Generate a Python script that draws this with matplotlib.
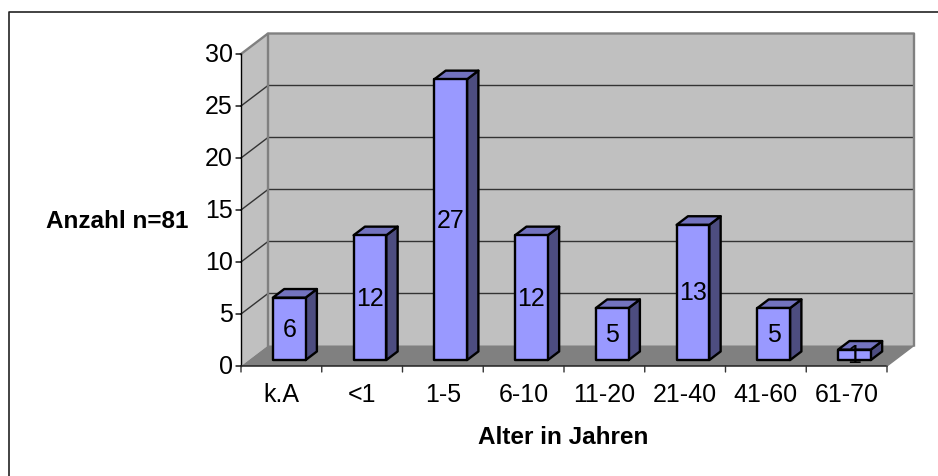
import matplotlib
matplotlib.use("Agg")
import matplotlib.pyplot as plt
from matplotlib.patches import Polygon

categories = ['k.A', '<1', '1-5', '6-10', '11-20', '21-40', '41-60', '61-70']
counts = [6, 12, 27, 12, 5, 13, 5, 1]
y_ticks = [0, 5, 10, 15, 20, 25, 30]

plt.rcParams['font.family'] = ['Liberation Sans', 'DejaVu Sans']

W, H = 938, 477
fig = plt.figure(figsize=(W / 100, H / 100), dpi=100)

# front plane of the chart box, in pixels
left, right, bottom, top = 241, 887, 367, 55
ax = fig.add_axes([left / W, 1 - bottom / H, (right - left) / W, (bottom - top) / H])
ax.set_xlim(0, len(categories))
ax.set_ylim(0, 30)
ax.axis('off')

# depth of the box, in data units
depth_x = 27 / ((right - left) / len(categories))
depth_y = 20.5 / ((bottom - top) / 30)
n = len(categories)
ymax = y_ticks[-1]


def poly(pts, face, edge='none', lw=0, z=1):
    ax.add_patch(Polygon(pts, closed=True, facecolor=face, edgecolor=edge,
                         linewidth=lw, zorder=z, clip_on=False, joinstyle='round'))


# walls and floor
poly([(depth_x, depth_y), (n + depth_x, depth_y), (n + depth_x, ymax + depth_y), (depth_x, ymax + depth_y)], '#c0c0c0', z=1)
poly([(0, 0), (depth_x, depth_y), (depth_x, ymax + depth_y), (0, ymax)], '#c0c0c0', z=1)
poly([(0, 0), (n, 0), (n + depth_x, depth_y), (depth_x, depth_y)], '#808080', z=1)

# gridlines across both walls
for v in y_ticks[1:-1]:
    ax.plot([0, depth_x, n + depth_x], [v, v + depth_y, v + depth_y], color='#333333',
            lw=1.0, zorder=2, clip_on=False)

# wall outline
ax.plot([0, depth_x, n + depth_x, n + depth_x], [ymax, ymax + depth_y, ymax + depth_y, depth_y],
        color='#808080', lw=1.7, zorder=2, clip_on=False)
ax.plot([depth_x, depth_x], [depth_y, ymax + depth_y], color='#808080', lw=1.7, zorder=2, clip_on=False)

# axis lines and ticks
ax.plot([0, 0], [0, ymax], color='black', lw=1, zorder=3, clip_on=False)
ax.plot([0, n], [0, 0], color='#222222', lw=1.1, zorder=3, clip_on=False)
ax.plot([n, n + depth_x], [0, depth_y], color='#808080', lw=1, zorder=3, clip_on=False)
for v in y_ticks:
    ax.annotate('', xy=(0, v), xytext=(-5, 0), textcoords='offset pixels',
                arrowprops=dict(arrowstyle='-', color='black', lw=1, shrinkA=0, shrinkB=0))
    ax.annotate(str(v), xy=(0, v), xytext=(-8, -0.5), textcoords='offset pixels',
                ha='right', va='center', fontsize=18)
for i in range(n + 1):
    ax.annotate('', xy=(i, 0), xytext=(0, -6), textcoords='offset pixels',
                arrowprops=dict(arrowstyle='-', color='#333333', lw=1, shrinkA=0, shrinkB=0))
for i, name in enumerate(categories):
    ax.annotate(name, xy=(i + 0.5, 0), xytext=(0, -28), textcoords='offset pixels',
                ha='center', va='center', fontsize=18)

# 3D bars
bar_w = 32.7 / ((right - left) / n)
front = 0.29
back = 0.71
for i, c in enumerate(counts):
    x0 = i + 0.5 - bar_w / 2 + front * depth_x
    x1 = x0 + bar_w
    y0 = front * depth_y
    y1 = y0 + c
    dx = (back - front) * depth_x
    dy = (back - front) * depth_y
    poly([(x1, y0), (x1 + dx, y0 + dy), (x1 + dx, y1 + dy), (x1, y1)], '#4d4d80', 'black', 1.7, 5)
    poly([(x0, y1), (x1, y1), (x1 + dx, y1 + dy), (x0 + dx, y1 + dy)], '#7373bf', 'black', 1.7, 5)
    poly([(x0, y0), (x1, y0), (x1, y1), (x0, y1)], '#9999ff', 'black', 1.7, 5)
    ax.text((x0 + x1) / 2, y0 + c / 2, str(c), ha='center', va='center', fontsize=18, zorder=6)

fig.text(188 / W, 1 - 222 / H, 'Anzahl n=81', ha='right', va='center', fontsize=17.5, fontweight='bold')
fig.text(563 / W, 1 - 438 / H, 'Alter in Jahren', ha='center', va='center', fontsize=17.5, fontweight='bold')

# outer border, open at the bottom
fig.add_artist(plt.Line2D([8.5 / W, 8.5 / W, 1], [0, 1 - 13 / H, 1 - 13 / H], color='#222222', lw=1.2))

fig.savefig('out.png', dpi=100)
